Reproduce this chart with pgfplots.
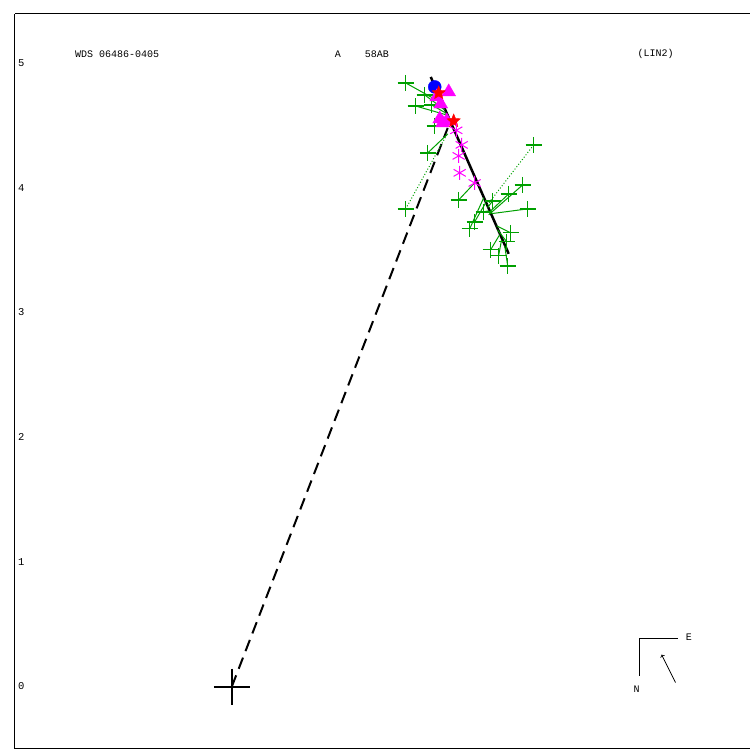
\documentclass[border=0pt]{standalone}
\usepackage{pgfplots}
\pgfplotsset{compat=1.18}
\usepackage{fontspec}
\setmainfont{Liberation Mono}
\definecolor{obsgreen}{RGB}{0,160,0}
\definecolor{mag}{RGB}{255,0,255}
\definecolor{pblue}{RGB}{0,0,255}
\definecolor{pred}{RGB}{255,0,0}
\pgfdeclareplotmark{fstar}{%
 \pgfpathmoveto{\pgfpointpolar{90}{\pgfplotmarksize}}%
 \pgfpathlineto{\pgfpointpolar{126}{0.45\pgfplotmarksize}}%
 \pgfpathlineto{\pgfpointpolar{162}{\pgfplotmarksize}}%
 \pgfpathlineto{\pgfpointpolar{198}{0.45\pgfplotmarksize}}%
 \pgfpathlineto{\pgfpointpolar{234}{\pgfplotmarksize}}%
 \pgfpathlineto{\pgfpointpolar{270}{0.45\pgfplotmarksize}}%
 \pgfpathlineto{\pgfpointpolar{306}{\pgfplotmarksize}}%
 \pgfpathlineto{\pgfpointpolar{342}{0.45\pgfplotmarksize}}%
 \pgfpathlineto{\pgfpointpolar{18}{\pgfplotmarksize}}%
 \pgfpathlineto{\pgfpointpolar{54}{0.45\pgfplotmarksize}}%
 \pgfpathclose\pgfusepathqfillstroke}%
\begin{document}%
\begin{tikzpicture}
\begin{axis}[
  x=124.8pt, y=124.8pt,
  xmin=-1.739, xmax=4.151, ymin=-0.497, ymax=5.393,
  axis x line*=box, axis y line*=left,
  axis line style={black, line width=1pt},
  xtick=\empty,
  ytick={0,1,2,3,4,5},
  major tick length=0pt,
  yticklabel style={anchor=west, font=\fontsize{10.5}{12}\selectfont, inner sep=3pt},
  /pgf/number format/assume math mode=true,
  clip=false,
]
% fitted line and line to primary
\addplot[black, line width=2.5pt] coordinates {(1.595,4.888) (2.220,3.470)};
\addplot[black, line width=2pt, dash pattern=on 12pt off 7pt] coordinates {(0,0) (1.731,4.479)};
% primary
\addplot[only marks, mark=+, mark size=18pt, line width=2pt, black] coordinates {(0,0)};
% O-C lines
\addplot[obsgreen, line width=1pt, unbounded coords=jump] coordinates {
(1.394,4.840) (1.683,4.679) (nan,nan)
(1.546,4.744) (1.707,4.623) (nan,nan)
(1.474,4.655) (1.723,4.583) (nan,nan)
(1.603,4.663) (1.715,4.599) (nan,nan)
(1.627,4.495) (1.755,4.511) (nan,nan)
(1.571,4.279) (1.731,4.431) (nan,nan)
(1.819,3.902) (1.947,4.038) (nan,nan)
(2.332,4.022) (2.059,3.782) (nan,nan)
(2.372,3.830) (2.083,3.792) (nan,nan)
(2.220,3.950) (2.067,3.806) (nan,nan)
(2.091,3.894) (2.051,3.841) (nan,nan)
(2.019,3.806) (2.059,3.814) (nan,nan)
(1.947,3.726) (2.035,3.878) (nan,nan)
(1.907,3.670) (2.019,3.918) (nan,nan)
(2.236,3.638) (2.123,3.694) (nan,nan)
(2.204,3.566) (2.131,3.662) (nan,nan)
(2.075,3.502) (2.147,3.622) (nan,nan)
(2.139,3.454) (2.163,3.582) (nan,nan)
(2.212,3.373) (2.188,3.534)
};
\addplot[obsgreen, line width=1pt, dotted, unbounded coords=jump] coordinates {
(1.394,3.830) (1.723,4.423) (nan,nan)
(2.420,4.343) (2.051,3.865)
};
% observations
\addplot[only marks, mark=+, mark size=8pt, obsgreen, line width=1.3pt] coordinates {
(1.394,4.840) (1.546,4.744) (1.474,4.655) (1.603,4.663) (1.627,4.495)
(1.571,4.279) (1.394,3.830) (1.819,3.902) (2.420,4.343) (2.332,4.022)
(2.372,3.830) (2.220,3.950) (2.091,3.894) (2.019,3.806) (1.947,3.726)
(1.907,3.670) (2.236,3.638) (2.204,3.566) (2.075,3.502) (2.139,3.454)
(2.212,3.373)
};
% blue circle
\addplot[only marks, mark=*, mark size=6.5pt, pblue, mark options={fill=pblue, draw=pblue}] coordinates {(1.627,4.808)};
% magenta triangles
\addplot[only marks, mark=triangle*, mark size=8pt, mag, mark options={fill=mag, draw=mag}] coordinates {
(1.739,4.768) (1.643,4.728) (1.675,4.671) (1.667,4.551) (1.723,4.535) (1.690,4.520)
};
% red stars
\addplot[only marks, mark=fstar, mark size=7pt, pred, mark options={fill=pred, draw=pred}] coordinates {(1.659,4.760) (1.779,4.535)};
% magenta asterisks
\addplot[only marks, mark=asterisk, mark size=7pt, mag, line width=1pt] coordinates {
(1.843,4.343) (1.819,4.255) (1.827,4.119) (1.947,4.038) (1.80,4.46)
};
% header text
\node[anchor=west, inner sep=0pt, font=\fontsize{10}{12}\selectfont] at (axis cs:-1.258,5.072) {WDS 06486-0405};
\node[anchor=west, inner sep=0pt, font=\fontsize{10}{12}\selectfont] at (axis cs:0.825,5.072) {A};
\node[anchor=west, inner sep=0pt, font=\fontsize{10}{12}\selectfont] at (axis cs:1.066,5.072) {58AB};
\node[anchor=west, inner sep=0pt, font=\fontsize{10}{12}\selectfont] at (axis cs:3.253,5.072) {(LIN2)};
% compass
\draw[black, line width=1pt] (axis cs:3.574,0.385) -- (axis cs:3.269,0.385) -- (axis cs:3.269,0.088);
\node[anchor=west, inner sep=0pt, font=\fontsize{10}{12}\selectfont] at (axis cs:3.64,0.393) {E};
\node[anchor=center, inner sep=0pt, font=\fontsize{10}{12}\selectfont] at (axis cs:3.245,-0.024) {N};
\draw[black, line width=0.8pt, ->] (axis cs:3.558,0.032) -- (axis cs:3.446,0.256);
% page extent
\path (axis cs:-1.859,-0.505) (axis cs:4.151,5.505);
\end{axis}
\end{tikzpicture}%
\end{document}
